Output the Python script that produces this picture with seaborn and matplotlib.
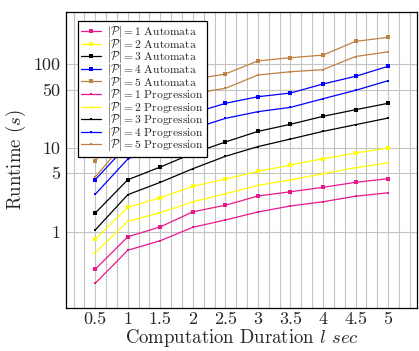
import numpy as np
import pandas as pd
import matplotlib
matplotlib.use("Agg")
import matplotlib.pyplot as plt
import seaborn as sns

durations = [0.5, 1, 1.5, 2, 2.5, 3, 3.5, 4, 4.5, 5]

auto_p1 = [0.356, 0.87, 1.14, 1.73, 2.07, 2.67, 3.0, 3.39, 3.89, 4.30]
auto_p2 = [0.81, 1.96, 2.55, 3.48, 4.26, 5.26, 6.27, 7.45, 8.71, 10.0]
auto_p3 = [1.67, 4.18, 5.93, 8.64, 11.8, 15.8, 19.2, 23.9, 28.7, 34.2]
auto_p4 = [4.18, 11.0, 18.0, 26.0, 34.2, 41.0, 45.4, 58.2, 71.9, 94.7]
auto_p5 = [7.0, 20.0, 40.0, 66.0, 76.6, 110.0, 120.0, 129.0, 188.0, 210.0]

prog_p1 = [0.242, 0.60, 0.78, 1.13, 1.38, 1.72, 2.03, 2.28, 2.65, 2.92]
prog_p2 = [0.56, 1.33, 1.69, 2.28, 2.84, 3.58, 4.15, 4.93, 5.82, 6.67]
prog_p3 = [1.05, 2.77, 3.89, 5.66, 7.96, 10.4, 12.8, 15.8, 19.0, 22.8]
prog_p4 = [2.80, 7.39, 11.0, 17.0, 22.6, 27.2, 30.6, 38.8, 48.9, 63.7]
prog_p5 = [4.5, 13.0, 27.0, 44.6, 51.7, 74.5, 81.6, 86.3, 124.0, 141.0]

x_ticks = [0.5, 1, 1.5, 2, 2.5, 3, 3.5, 4, 4.5, 5]
x_tick_labels = ["0.5", "1", "1.5", "2", "2.5", "3", "3.5", "4", "4.5", "5"]
y_ticks = [1, 5, 10, 50, 100]
y_tick_labels = ["1", "5", "10", "50", "100"]

colors = ["#e8188c", "#ffff00", "#000000", "#0000ff", "#bf8040"]

sns.set_theme(style="white")
plt.rcParams["font.family"] = ["serif"]
plt.rcParams["font.serif"] = ["cmr10", "DejaVu Serif"]
plt.rcParams["mathtext.fontset"] = "cm"
plt.rcParams["axes.unicode_minus"] = False
plt.rcParams["axes.formatter.use_mathtext"] = True

rows = []
auto = [auto_p1, auto_p2, auto_p3, auto_p4, auto_p5]
prog = [prog_p1, prog_p2, prog_p3, prog_p4, prog_p5]
for i, vals in enumerate(auto):
    for d, v in zip(durations, vals):
        rows.append({"x": d, "y": v, "series": f"$|\\mathcal{{P}}| = {i+1}$ Automata", "kind": "A", "c": i})
for i, vals in enumerate(prog):
    for d, v in zip(durations, vals):
        rows.append({"x": d, "y": v, "series": f"$|\\mathcal{{P}}| = {i+1}$ Progression", "kind": "P", "c": i})
df = pd.DataFrame(rows)

fig = plt.figure(figsize=(4.19, 3.51), dpi=100)
ax = fig.add_axes([0.1575, 0.1225, 0.8385, 0.8433])
ax.set_yscale("log")

for kind, ms in [("A", 3.5), ("P", 2.0)]:
    for i in range(5):
        sub = df[(df.kind == kind) & (df.c == i)]
        sns.lineplot(data=sub, x="x", y="y", ax=ax, color=colors[i], lw=0.9,
                     marker="s", markersize=ms, markeredgewidth=0,
                     label=sub.series.iloc[0], zorder=3)

ax.set_xlim(0.05, 5.45)
ax.set_ylim(0.1225, 422)
ax.set_xticks(x_ticks)
ax.set_xticklabels(x_tick_labels)
ax.set_xticks(np.arange(0.5 - 2/6, 5.45, 1/6), minor=True)
ax.set_yticks(y_ticks)
ax.set_yticklabels(y_tick_labels)
ax.yaxis.set_minor_locator(matplotlib.ticker.NullLocator())
ax.grid(True, which="major", axis="both", color="#c4c4c4", lw=0.8)
ax.grid(True, which="minor", axis="x", color="#c4c4c4", lw=0.8)
ax.set_axisbelow(True)
ax.tick_params(axis="both", which="major", labelsize=13, length=3, direction="in",
               color="#888888", pad=4)
ax.tick_params(axis="x", which="major", pad=2.5)
ax.tick_params(axis="x", which="minor", length=0)
for s in ax.spines.values():
    s.set_color("black")
    s.set_linewidth(0.9)

ax.set_xlabel("Computation Duration $l$ $sec$", fontsize=13.5, labelpad=0)
ax.set_ylabel("Runtime $(s)$", fontsize=13.5, labelpad=4)

leg = ax.legend(loc="upper left", bbox_to_anchor=(0.033, 0.97), fontsize=8.3,
                frameon=True, fancybox=False, edgecolor="black", framealpha=1,
                borderpad=0.3, labelspacing=-0.3, handlelength=1.75,
                handletextpad=0.5, borderaxespad=0)
leg.get_frame().set_linewidth(0.9)
leg.set_zorder(10)

fig.savefig("out.png", dpi=100)
